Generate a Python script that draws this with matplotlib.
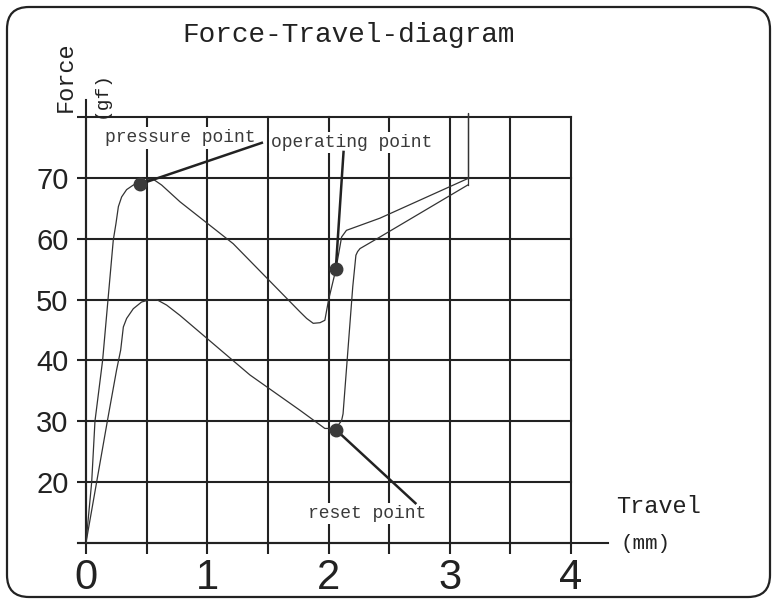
import numpy as np
import matplotlib
matplotlib.use("Agg")
import matplotlib.pyplot as plt
from matplotlib.patches import FancyBboxPatch
from matplotlib.transforms import IdentityTransform

# press stroke (travel mm, force gf)
press_x = [0, 0.047, 0.074, 0.137, 0.225, 0.247, 0.267, 0.294, 0.335, 0.39, 0.44, 0.528,
           0.555, 0.624, 0.775, 1.214, 1.764, 1.82, 1.874, 1.93, 1.97, 1.99, 2.0, 2.06,
           2.094, 2.108, 2.148, 2.424, 3.152]
press_y = [10, 20, 30, 40, 59.8, 62.5, 65.3, 66.9, 68.1, 68.85, 69.3, 69.8,
           69.8, 68.85, 66.1, 59.2, 48.0, 46.9, 46.1, 46.2, 46.6, 48.8, 49.9, 54.9,
           58.7, 60.3, 61.4, 63.4, 69.95]

# end stop
stop_x = [3.152, 3.152, 3.152]
stop_y = [69.95, 80.7, 68.9]

# release stroke
release_x = [3.152, 2.424, 2.26, 2.24, 2.226, 2.2, 2.12, 2.108, 2.06, 1.97, 1.764, 1.352,
             0.775, 0.665, 0.583, 0.528, 0.458, 0.39, 0.335, 0.308, 0.286, 0.252, 0.176,
             0.088, 0]
release_y = [68.9, 60.3, 58.4, 57.9, 57.3, 52.1, 31.2, 30.1, 28.8, 28.8, 31.8, 37.6,
             47.4, 49.1, 50.0, 50.0, 49.6, 48.5, 46.9, 45.5, 41.7, 38.4, 30,
             20, 10]

# marked points
point_names = ["pressure point", "operating point", "reset point"]
point_x = [0.445, 2.06, 2.06]
point_y = [69.0, 55.0, 28.6]
label_x = [0.775, 2.194, 2.315]
label_y = [76.6, 75.8, 14.8]
leader_x = [1.45, 2.124, 2.717]
leader_y = [75.8, 74.3, 16.5]

xticks = [0, 0.5, 1, 1.5, 2, 2.5, 3, 3.5, 4]
xtick_labels = ["0", "", "1", "", "2", "", "3", "", "4"]
yticks = [10, 20, 30, 40, 50, 60, 70, 80]
ytick_labels = ["", "20", "30", "40", "50", "60", "70", ""]

ink = "#222222"
mono = "Liberation Mono"

fig = plt.figure(figsize=(7.77, 6.03), dpi=100)
ax = fig.add_axes([86 / 777, 60.3 / 603, 485 / 777, 425.4 / 603])
ax.set_xlim(0, 4)
ax.set_ylim(10, 80)
for s in ax.spines.values():
    s.set_visible(False)

ax.set_xticks(xticks)
ax.set_xticklabels(xtick_labels, fontfamily="Liberation Sans", fontsize=30)
ax.set_yticks(yticks)
ax.set_yticklabels(ytick_labels, fontfamily="Liberation Sans", fontsize=21)
ax.tick_params(axis="x", length=8, width=1.5, color=ink, pad=3, labelcolor=ink)
ax.tick_params(axis="y", length=6.5, width=1.5, color=ink, pad=6, labelcolor=ink)
ax.grid(True, color=ink, lw=1.5)
ax.set_axisbelow(True)
for gl in ax.get_xgridlines() + ax.get_ygridlines():
    gl.set_clip_on(False)

# axis lines sticking out past the grid
ax.plot([-0.07, 4.305], [10, 10], color=ink, lw=1.5, clip_on=False, zorder=1)
ax.plot([0, 0], [10, 82.85], color=ink, lw=1.5, clip_on=False, zorder=1)

ax.plot(press_x, press_y, color="#333333", lw=0.9, zorder=2)
ax.plot(stop_x, stop_y, color="#333333", lw=0.9, zorder=2, clip_on=False)
ax.plot(release_x, release_y, color="#333333", lw=0.9, zorder=2)

for i in range(len(point_names)):
    ax.plot([point_x[i], leader_x[i]], [point_y[i], leader_y[i]], color=ink, lw=1.8,
            clip_on=False, zorder=4)
    ax.plot(point_x[i], point_y[i], "o", ms=9, color="#3a3a3a", zorder=5)
    ax.text(label_x[i], label_y[i], point_names[i], fontfamily=mono, fontsize=13,
            color="#3a3a3a", ha="center", va="center", zorder=3,
            bbox=dict(facecolor="white", edgecolor="none", pad=1.5))

fig.text(0.449, 0.942, "Force-Travel-diagram", fontfamily=mono, fontsize=20,
         color=ink, ha="center", va="center")
fig.text(0.0837, 0.873, "Force", fontfamily=mono, fontsize=17, color=ink,
         rotation=90, ha="center", va="center")
fig.text(0.13, 0.844, "(gf)", fontfamily=mono, fontsize=14, color=ink,
         rotation=90, ha="center", va="center")
fig.text(0.848, 0.16, "Travel", fontfamily=mono, fontsize=17, color=ink,
         ha="center", va="center")
fig.text(0.831, 0.0995, "(mm)", fontfamily=mono, fontsize=15, color=ink,
         ha="center", va="center")

border = FancyBboxPatch((7, 6), 763, 590, boxstyle="round,pad=0,rounding_size=22",
                        transform=IdentityTransform(), fill=False, lw=1.6, ec=ink)
fig.add_artist(border)

fig.savefig("out.png", dpi=100)
